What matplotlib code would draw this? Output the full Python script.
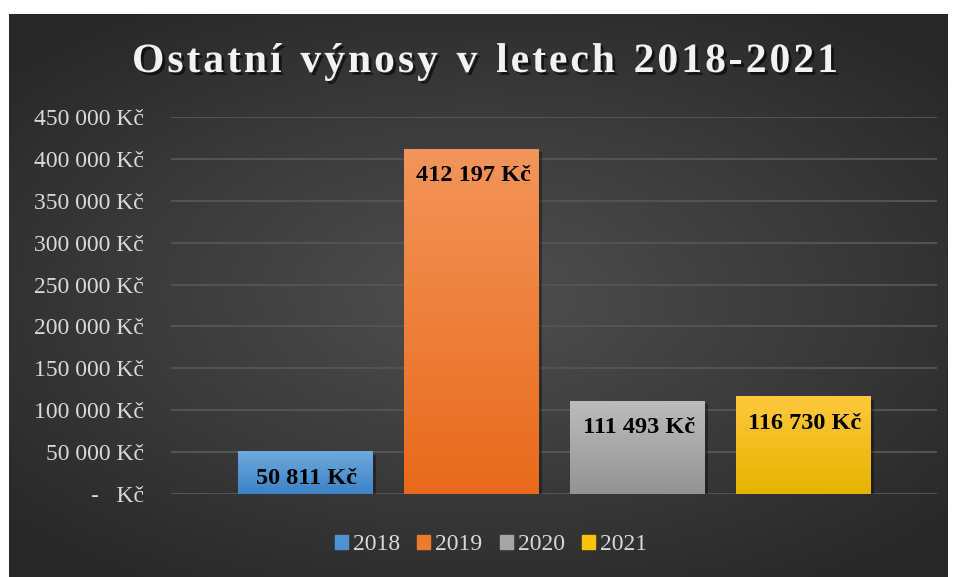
import numpy as np
import matplotlib
matplotlib.use("Agg")
import matplotlib.pyplot as plt
import matplotlib.patheffects as pe
from matplotlib.colors import LinearSegmentedColormap
from matplotlib.patches import Rectangle

# data
title = "Ostatní výnosy v letech 2018-2021"
years = ["2018", "2019", "2020", "2021"]
values = [50811, 412197, 111493, 116730]
labels = ["50 811 Kč", "412 197 Kč", "111 493 Kč", "116 730 Kč"]
yticks = [0, 50000, 100000, 150000, 200000, 250000, 300000, 350000, 400000, 450000]
ytick_labels = ["-   Kč", "50 000 Kč", "100 000 Kč", "150 000 Kč", "200 000 Kč",
                "250 000 Kč", "300 000 Kč", "350 000 Kč", "400 000 Kč", "450 000 Kč"]
# top / bottom gradient colours of each bar
grad_top = ["#6ea9de", "#f3955a", "#bdbdbd", "#ffc83d"]
grad_bot = ["#3c82c6", "#e86a1c", "#939393", "#e6b300"]
legend_col = ["#4f92d3", "#ee7a2e", "#a5a5a5", "#fbc20a"]

plt.rcParams['font.family'] = ['Liberation Serif', 'DejaVu Serif']

fig = plt.figure(figsize=(9.54, 5.77), dpi=100)
fig.patch.set_facecolor("white")

# dark radial background panel
bg = fig.add_axes([9/954, 0, (948-9)/954, (577-14)/577])
gx, gy = np.meshgrid(np.linspace(-1, 1, 400), np.linspace(-1, 1, 240))
r = np.sqrt((gx*1.0)**2 + (gy*1.1)**2)
r = np.clip(r / 1.35, 0, 1)
bgcmap = LinearSegmentedColormap.from_list("bg", ["#4f4f4f", "#3c3c3c", "#282828"])
bg.imshow(r, cmap=bgcmap, aspect="auto", extent=[0, 1, 0, 1], vmin=0, vmax=1)
bg.set_axis_off()

ax = fig.add_axes([171/954, 83/577, 766/954, 377/577])
ax.patch.set_alpha(0)
x = np.arange(len(years))
bars = ax.bar(x, values, width=0.81, color=legend_col, zorder=3)

# gradient fill + soft shadow for each bar
for i, b in enumerate(bars):
    bx, bw, bh = b.get_x(), b.get_width(), b.get_height()
    sh = Rectangle((bx + 0.02, -4000), bw, bh, facecolor="black", alpha=0.35,
                   zorder=2, edgecolor="none")
    ax.add_patch(sh)
    cm = LinearSegmentedColormap.from_list("c%d" % i, [grad_bot[i], grad_top[i]])
    grad = np.linspace(0, 1, 256).reshape(-1, 1)
    im = ax.imshow(grad, cmap=cm, aspect="auto", origin="lower",
                   extent=[bx, bx + bw, 0, bh], zorder=4)
    im.set_clip_path(b)
    ax.annotate(labels[i], (bx + bw/2, bh), xytext=(2, -27),
                textcoords="offset pixels",
                ha="center", va="center", fontsize=17.5, fontweight="bold",
                color="black", zorder=6)

ax.set_xlim(-0.807, 3.807)
ax.set_ylim(0, 450000)
ax.set_yticks(yticks)
ax.set_yticklabels(ytick_labels, fontsize=17, color="#d9d9d9")
ax.set_xticks([])
ax.tick_params(axis="y", length=0, pad=19.5)
ax.grid(axis="y", color="#535353", linewidth=1.5, zorder=0)
for s in ax.spines.values():
    s.set_visible(False)

# title with letter spacing, drawn char by char
shadow = [pe.withSimplePatchShadow(offset=(2, -2), shadow_rgbFace="black", alpha=0.6)]
tkw = dict(fontsize=30, fontweight="bold", color="#f2f2f2", va="center", ha="left")
renderer = fig.canvas.get_renderer()
widths = []
for ch in title:
    t = fig.text(0, 0, ch if ch != " " else "n", **tkw)
    w = t.get_window_extent(renderer).width
    widths.append(w * (0.55 if ch == " " else 1.0))
    t.remove()
track = 3.0
total = sum(widths) + track * (len(title) - 1)
xpos = 485 - total / 2
for ch, w in zip(title, widths):
    if ch != " ":
        fig.text(xpos / 954, 1 - 62 / 577, ch, path_effects=shadow, **tkw)
    xpos += w + track

handles = [Rectangle((0, 0), 1, 1, color=c) for c in legend_col]
fig.legend(handles, years, loc="center", bbox_to_anchor=(491/954, 1 - 545/577), ncol=4,
           frameon=False, fontsize=17, labelcolor="#d9d9d9", handlelength=0.55,
           handleheight=0.55, handletextpad=0.2, columnspacing=0.75)

fig.savefig("out.png", dpi=100)
